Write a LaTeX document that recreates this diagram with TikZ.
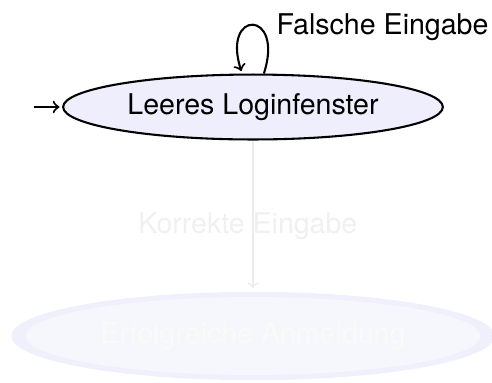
\documentclass[tikz,border=0pt]{standalone}
\usepackage{fontspec}
\setmainfont{TeX Gyre Heros}
\usepackage{tikz}
\usetikzlibrary{automata,positioning,shapes.geometric}
\usepackage{xcolor}
\definecolor{statefill}{RGB}{238,238,252}
\definecolor{fadeline}{RGB}{236,236,236}
\definecolor{fadelabel}{RGB}{240,240,240}
\definecolor{fadering}{RGB}{240,240,252}
\definecolor{fadefill}{RGB}{246,246,253}
\definecolor{fadetext}{RGB}{250,250,247}
\tikzset{
  every state/.style={ellipse, draw, fill=statefill, inner sep=3.33pt,
    minimum height=25pt},
  >=to,
  shorten >=1pt,
}

\begin{document}
\begin{tikzpicture}[
  ->,>=to,shorten >=1pt,thick,
  x=0.385pt,y=-0.385pt,
  font=\fontsize{11pt}{13pt}\selectfont,
  initial text={}, initial distance=11pt,
]
\useasboundingbox (0,0) rectangle (492,382);

\node[state, initial left] (leer) at (253,107) {Leeres Loginfenster};
% faded target state, drawn as a pale ring
\node[state, draw=none, fill=fadering, text=fadetext,
  minimum width=186pt, minimum height=34pt,
  path picture={\fill[fadefill] (path picture bounding box.center)
    ellipse [x radius=87.5pt, y radius=15pt];}]
  (erfolg) at (253,336) {Erfolgreiche Anmeldung};

\path
(leer) edge[out=72, in=108, looseness=8, min distance=9mm]
  node[pos=0.4, right, xshift=3pt, text=black] {Falsche Eingabe} (leer)
(leer) edge[draw=fadeline, semithick]
  node[pos=0.57, text=fadelabel, xshift=-2pt] {Korrekte Eingabe} (erfolg);
\end{tikzpicture}
\end{document}
